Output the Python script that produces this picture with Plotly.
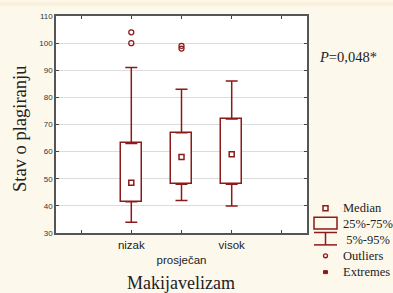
import plotly.graph_objects as go

categories = ["nizak", "prosječan", "visok"]
positions = [1, 2, 3]
p5 = [34, 42, 40]
q1 = [41.5, 48, 48]
median = [48.5, 58, 59]
q3 = [63, 67, 72]
p95 = [91, 83, 86]
outlier_x = [1, 1, 2, 2]
outlier_y = [104, 100, 99, 98]

legend_labels = ["Median", "25%-75%", " 5%-95%", "Outliers", "Extremes"]
p_text = "<i>P</i>=0,048*"
y_title = "Stav o plagiranju"
x_title = "Makijavelizam"

RED = "#8b1a1a"
BG = "#fdf8ec"
W, H = 393, 293
L, R, T, B = 56, 307, 14, 233


def px(x):
    return (x - L) / (R - L)


def py(y):
    return (B - y) / (B - T)


fig = go.Figure()

# boxes (25%-75%)
fig.add_trace(go.Bar(
    x=positions, y=[b - a for a, b in zip(q1, q3)], base=q1, width=0.42,
    marker=dict(color="white", line=dict(color=RED, width=1.5)),
    hoverinfo="skip", showlegend=False))

# upper whiskers
fig.add_trace(go.Scatter(
    x=positions, y=q3, mode="markers", marker=dict(size=1, opacity=0),
    error_y=dict(type="data", array=[b - a for a, b in zip(q3, p95)],
                 arrayminus=[0] * 3, color=RED, thickness=1.5, width=6),
    hoverinfo="skip", showlegend=False))
# lower whiskers
fig.add_trace(go.Scatter(
    x=positions, y=q1, mode="markers", marker=dict(size=1, opacity=0),
    error_y=dict(type="data", array=[0] * 3,
                 arrayminus=[a - b for a, b in zip(q1, p5)],
                 color=RED, thickness=1.5, width=6),
    hoverinfo="skip", showlegend=False))

# medians
fig.add_trace(go.Scatter(
    x=positions, y=median, mode="markers",
    marker=dict(symbol="square-open", size=5, color=RED, line=dict(width=1.5)),
    hoverinfo="skip", showlegend=False))

# outliers
fig.add_trace(go.Scatter(
    x=outlier_x, y=outlier_y, mode="markers",
    marker=dict(symbol="circle-open", size=5, color=RED, line=dict(width=1.3)),
    hoverinfo="skip", showlegend=False))

shapes = [
    dict(type="rect", xref="paper", yref="paper", x0=px(0), x1=px(W),
         y0=py(4), y1=py(0), fillcolor="#fcf0da", line=dict(width=0), layer="below"),
]

# custom legend
lx0, lx1, lxc = 314, 337, 325.5
shapes += [
    dict(type="rect", xref="paper", yref="paper", x0=px(lxc - 2.5), x1=px(lxc + 2.5),
         y0=py(210.5), y1=py(205.5), line=dict(color=RED, width=1.5)),
    dict(type="rect", xref="paper", yref="paper", x0=px(lx0), x1=px(lx1),
         y0=py(229), y1=py(217), line=dict(color=RED, width=1.5)),
    dict(type="line", xref="paper", yref="paper", x0=px(lx0), x1=px(lx1),
         y0=py(232.5), y1=py(232.5), line=dict(color=RED, width=1.5)),
    dict(type="line", xref="paper", yref="paper", x0=px(lxc), x1=px(lxc),
         y0=py(232.5), y1=py(245), line=dict(color=RED, width=1.5)),
    dict(type="line", xref="paper", yref="paper", x0=px(lx0), x1=px(lx1),
         y0=py(245), y1=py(245), line=dict(color=RED, width=1.5)),
    dict(type="circle", xref="paper", yref="paper", x0=px(lxc - 2), x1=px(lxc + 2),
         y0=py(258), y1=py(254), line=dict(color=RED, width=1.3)),
    dict(type="rect", xref="paper", yref="paper", x0=px(lxc - 2), x1=px(lxc + 2),
         y0=py(274), y1=py(271), fillcolor=RED, line=dict(color=RED, width=1)),
]

annotations = []
legend_y = [208, 224, 240, 256, 272]
for lab, yy in zip(legend_labels, legend_y):
    annotations.append(dict(
        xref="paper", yref="paper", x=px(341), y=py(yy), xanchor="left", yanchor="middle",
        text=lab, showarrow=False,
        font=dict(family="Liberation Serif", size=12.5, color="#222")))

annotations += [
    dict(xref="paper", yref="paper", x=px(348), y=py(55), text=p_text, showarrow=False,
         xanchor="center", yanchor="middle",
         font=dict(family="Liberation Serif", size=14.5, color="#222")),
    dict(xref="paper", yref="paper", x=px(20), y=py(128), text=y_title, showarrow=False,
         textangle=-90, xanchor="center", yanchor="middle",
         font=dict(family="Liberation Serif", size=18.5, color="#222")),
    dict(xref="paper", yref="paper", x=px(181), y=py(283), text=x_title, showarrow=False,
         xanchor="center", yanchor="middle",
         font=dict(family="Liberation Serif", size=18, color="#222")),
]

fig.update_layout(
    width=W, height=H,
    margin=dict(l=L, r=W - R, t=T, b=H - B, pad=0),
    paper_bgcolor=BG, plot_bgcolor="white",
    shapes=shapes, annotations=annotations, bargap=0,
    showlegend=False,
)
fig.update_xaxes(
    range=[-0.5, 4.5], tickvals=[0, 1, 2, 3, 4],
    ticktext=["", categories[0], "<br>" + categories[1], categories[2], ""],
    ticks="inside", ticklen=3, tickcolor="#444", mirror="ticks",
    showline=True, linecolor="#555", linewidth=1.5, showgrid=False, zeroline=False,
    tickfont=dict(family="Liberation Sans", size=11.5, color="#222"))
fig.update_yaxes(
    range=[30, 110], dtick=10, ticks="inside", ticklen=3, tickcolor="#444", mirror="ticks",
    showline=True, linecolor="#555", linewidth=1.5,
    showgrid=True, gridcolor="#dcdcdc", gridwidth=1, zeroline=False,
    tickfont=dict(family="Liberation Sans", size=8, color="#333"))

fig.write_html(
    "out.html",
    config={"displayModeBar": False},
    post_script="document.body.style.margin='0';document.body.style.overflow='hidden';",
)
